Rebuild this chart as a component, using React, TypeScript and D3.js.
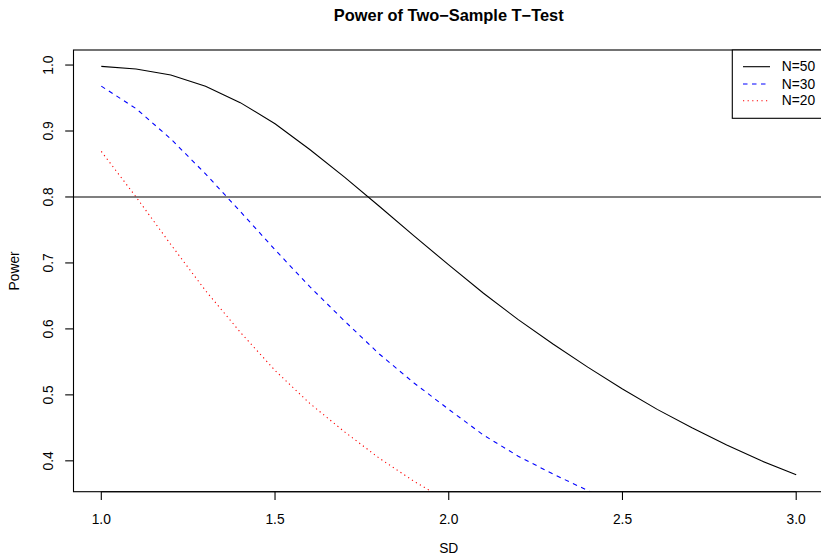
import React from "react";
import * as d3 from "d3";

// SD values on the x axis
const sdValues = [1.0, 1.1, 1.2, 1.3, 1.4, 1.5, 1.6, 1.7, 1.8, 1.9, 2.0, 2.1, 2.2, 2.3, 2.4, 2.5, 2.6, 2.7, 2.8, 2.9, 3.0];

// power
const powerN50 = [0.998, 0.994, 0.985, 0.968, 0.943, 0.911, 0.872, 0.830, 0.786, 0.741, 0.697, 0.654, 0.614, 0.577, 0.542, 0.509, 0.478, 0.450, 0.424, 0.400, 0.379];
const powerN30 = [0.968, 0.934, 0.888, 0.835, 0.778, 0.720, 0.664, 0.612, 0.562, 0.518, 0.478, 0.439, 0.407, 0.380, 0.355, 0.332, 0.311, 0.292, 0.275, 0.260, 0.246];
const powerN20 = [0.869, 0.800, 0.728, 0.658, 0.595, 0.537, 0.487, 0.444, 0.404, 0.369, 0.338, 0.312, 0.290, 0.270, 0.252, 0.236, 0.222, 0.209, 0.198, 0.188, 0.179];

const xTicks = [1.0, 1.5, 2.0, 2.5, 3.0];
const yTicks = [0.4, 0.5, 0.6, 0.7, 0.8, 0.9, 1.0];
const refLine = 0.8;

const series = [
  { name: "N=50", values: powerN50, color: "#000000", dash: "none" },
  { name: "N=30", values: powerN30, color: "#0000ff", dash: "4.5,4.5" },
  { name: "N=20", values: powerN20, color: "#ff0000", dash: "1.2,3.4" },
];

export default function App() {
  const W = 821;
  const H = 559;
  const left = 73.5;
  const right = 824;
  const top = 50;
  const bottom = 491.7;
  const font = "'Liberation Sans', Arial, Helvetica, sans-serif";

  // R style: 4% padding around data range
  const xr = [1.0, 3.0];
  const yr = [0.378, 0.998];
  const xp = (xr[1] - xr[0]) * 0.04;
  const yp = (yr[1] - yr[0]) * 0.04;
  const x = d3.scaleLinear().domain([xr[0] - xp, xr[1] + xp]).range([left, right]);
  const y = d3.scaleLinear().domain([yr[0] - yp, yr[1] + yp]).range([bottom, top]);

  const lineGen = d3
    .line<number>()
    .x((_, i) => x(sdValues[i]))
    .y((d) => y(d));

  const legendX = 732.3;
  const legendRows = [66.7, 84, 100.7];

  return (
    <svg
      width={W}
      height={H}
      style={{ position: "absolute", left: 0, top: 0, background: "white" }}
      fontFamily={font}
    >
      <defs>
        <clipPath id="plotArea">
          <rect x={left} y={top} width={right - left} height={bottom - top} />
        </clipPath>
      </defs>

      <text x={(left + right) / 2} y={21} textAnchor="middle" fontSize={16.4} fontWeight="bold">
        Power of Two−Sample T−Test
      </text>

      <g clipPath="url(#plotArea)">
        {series.map((s) => (
          <path
            key={s.name}
            d={lineGen(s.values) || ""}
            fill="none"
            stroke={s.color}
            strokeWidth={1.1}
            strokeDasharray={s.dash}
          />
        ))}
        <line x1={left} x2={right} y1={y(refLine)} y2={y(refLine)} stroke="#000" strokeWidth={1.1} />
      </g>

      <rect x={left} y={top} width={right - left} height={bottom - top} fill="none" stroke="#000" strokeWidth={1.1} />

      {/* x axis */}
      <line x1={x(xTicks[0])} x2={x(xTicks[xTicks.length - 1])} y1={bottom} y2={bottom} stroke="#000" strokeWidth={1.1} />
      {xTicks.map((t) => (
        <g key={t}>
          <line x1={x(t)} x2={x(t)} y1={bottom} y2={bottom + 8.3} stroke="#000" strokeWidth={1.1} />
          <text x={x(t)} y={519} textAnchor="middle" dominantBaseline="central" fontSize={13.8}>
            {t.toFixed(1)}
          </text>
        </g>
      ))}
      <text x={(left + right) / 2} y={548} textAnchor="middle" dominantBaseline="central" fontSize={13.8}>
        SD
      </text>

      {/* y axis */}
      {yTicks.map((t) => (
        <g key={t}>
          <line x1={left - 8.3} x2={left} y1={y(t)} y2={y(t)} stroke="#000" strokeWidth={1.1} />
          <text
            transform={`translate(48.3,${y(t)}) rotate(-90)`}
            textAnchor="middle"
            dominantBaseline="central"
            fontSize={13.8}
          >
            {t.toFixed(1)}
          </text>
        </g>
      ))}
      <text
        transform={`translate(14,${(top + bottom) / 2}) rotate(-90)`}
        textAnchor="middle"
        dominantBaseline="central"
        fontSize={13.8}
      >
        Power
      </text>

      {/* legend */}
      <rect x={legendX} y={top} width={right - legendX} height={118.3 - top} fill="white" stroke="#000" strokeWidth={1.1} />
      {series.map((s, i) => (
        <g key={s.name}>
          <line
            x1={743}
            x2={770}
            y1={legendRows[i]}
            y2={legendRows[i]}
            stroke={s.color}
            strokeWidth={1.1}
            strokeDasharray={s.dash}
          />
          <text x={781.7} y={legendRows[i]} dominantBaseline="central" fontSize={13.8}>
            {s.name}
          </text>
        </g>
      ))}
    </svg>
  );
}
